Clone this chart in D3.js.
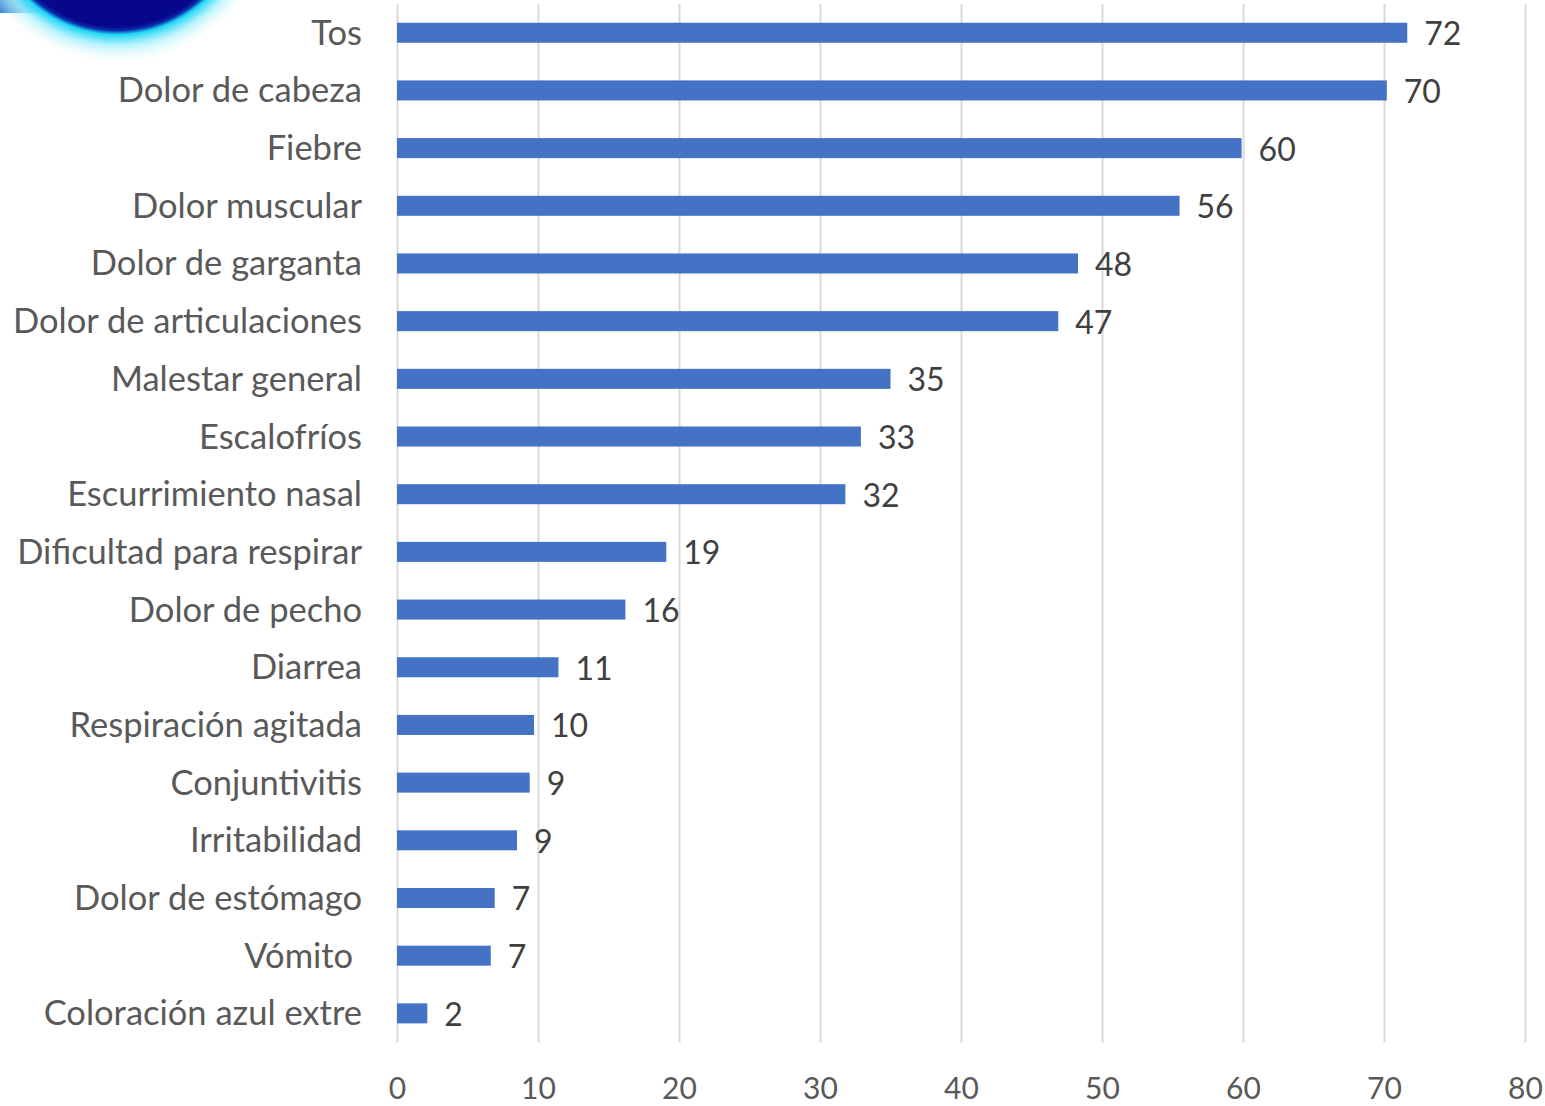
<!DOCTYPE html>
<html>
<head>
<meta charset="utf-8">
<script src="https://cdn.jsdelivr.net/npm/d3@7"></script>
<style>
  html, body { margin: 0; padding: 0; background: #ffffff; }
  svg { display: block; }
  text { font-family: Lato, "Open Sans", sans-serif; }
</style>
</head>
<body>
<svg id="chart" width="1545" height="1106"></svg>
<script>
const categories = [
  "Tos", "Dolor de cabeza", "Fiebre", "Dolor muscular", "Dolor de garganta",
  "Dolor de articulaciones", "Malestar general", "Escalofríos", "Escurrimiento nasal",
  "Dificultad para respirar", "Dolor de pecho", "Diarrea", "Respiración agitada",
  "Conjuntivitis", "Irritabilidad", "Dolor de estómago", "Vómito ", "Coloración azul extre"
];
const values = [71.65, 70.2, 59.9, 55.5, 48.3, 46.9, 35.0, 32.9, 31.8, 19.1, 16.2, 11.45, 9.72, 9.41, 8.51, 6.93, 6.65, 2.15];
const xTicks = [0, 10, 20, 30, 40, 50, 60, 70, 80];

const plotLeft = 397, plotRight = 1525, plotTop = 3.9, plotBottom = 1042.2;
const svg = d3.select("#chart");

// decorative glow at top-left
const defs = svg.append("defs");
const rg = defs.append("radialGradient").attr("id", "glow")
  .attr("cx", 0.5).attr("cy", 0.5).attr("r", 0.5);
rg.append("stop").attr("offset", "0.76").attr("stop-color", "#07078c");
rg.append("stop").attr("offset", "0.785").attr("stop-color", "#0a2fb0");
rg.append("stop").attr("offset", "0.81").attr("stop-color", "#1fd6f5");
rg.append("stop").attr("offset", "0.88").attr("stop-color", "#a8f0fb").attr("stop-opacity", 0.8);
rg.append("stop").attr("offset", "1").attr("stop-color", "#ffffff").attr("stop-opacity", 0);
const lg = defs.append("linearGradient").attr("id", "strip").attr("x1", 0).attr("x2", 1);
lg.append("stop").attr("offset", "0").attr("stop-color", "#2f7fcf");
lg.append("stop").attr("offset", "1").attr("stop-color", "#27c4ee").attr("stop-opacity", 0.9);
svg.append("rect").attr("x", 0).attr("y", 0).attr("width", 60).attr("height", 13).attr("fill", "url(#strip)");
svg.append("circle").attr("cx", 117).attr("cy", -95).attr("r", 160).attr("fill", "url(#glow)");

const x = d3.scaleLinear().domain([0, 80]).range([plotLeft, plotRight]);
const y = d3.scaleBand().domain(categories).range([plotTop, plotBottom])
  .paddingInner(0.653).paddingOuter(0.653 / 2);

// gridlines + axis
const axis = d3.axisBottom(x).tickValues(xTicks).tickSize(-(plotBottom - plotTop)).tickPadding(36);
const gx = svg.append("g").attr("transform", `translate(0,${plotBottom})`).call(axis);
gx.select(".domain").remove();
gx.selectAll(".tick line").attr("stroke", "#d9d9d9").attr("stroke-width", 2);
gx.selectAll(".tick text").attr("fill", "#595959").attr("font-size", 30)
  .attr("font-family", "Lato, 'Open Sans', sans-serif");

// bars
svg.append("g").selectAll("rect").data(categories).join("rect")
  .attr("x", x(0))
  .attr("y", d => y(d))
  .attr("width", (d, i) => x(values[i]) - x(0))
  .attr("height", y.bandwidth())
  .attr("fill", "#4472c4");

// category labels
svg.append("g").selectAll("text").data(categories).join("text")
  .attr("x", 362)
  .attr("y", d => y(d) + y.bandwidth() / 2 + 12)
  .attr("text-anchor", "end")
  .attr("fill", "#595959")
  .attr("font-size", 34.5)
  .style("white-space", "pre")
  .text(d => d);

// value labels
svg.append("g").selectAll("text").data(categories).join("text")
  .attr("x", (d, i) => x(values[i]) + 17)
  .attr("y", d => y(d) + y.bandwidth() / 2 + 12.5)
  .attr("fill", "#404040")
  .attr("font-size", 32)
  .text((d, i) => Math.round(values[i]));
</script>
</body>
</html>
